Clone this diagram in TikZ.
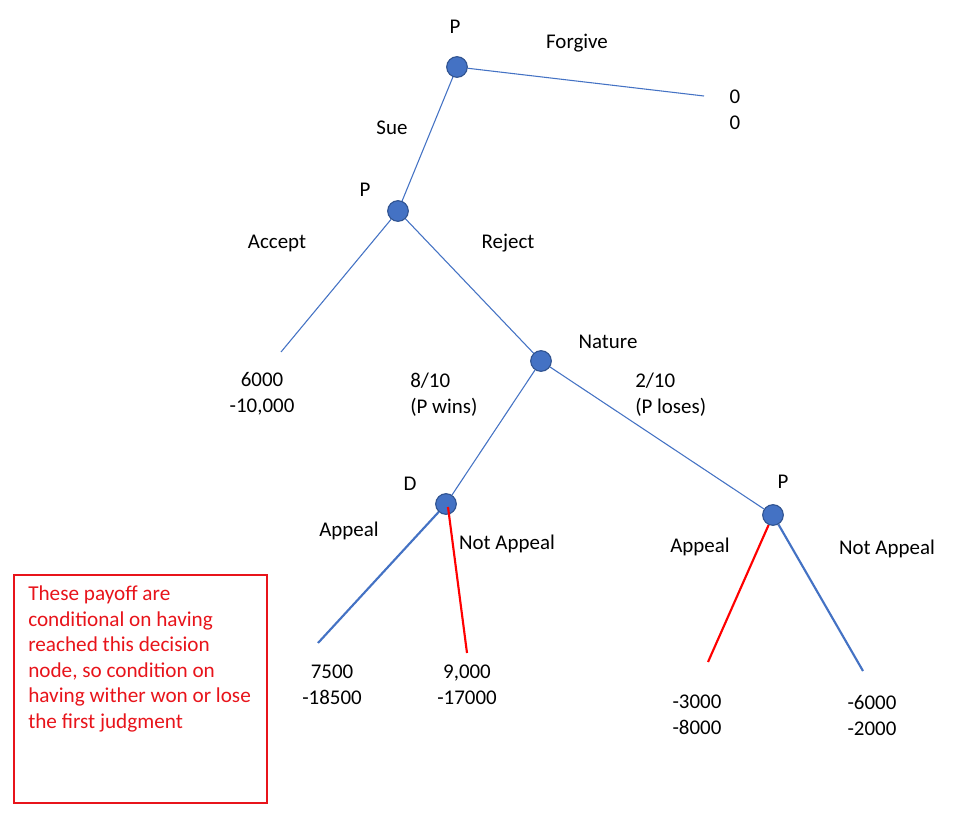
\documentclass[tikz,border=0pt]{standalone}
\usepackage{fontspec}
\setmainfont{Carlito}
\usetikzlibrary{backgrounds}
\definecolor{nodeblue}{HTML}{4472C4}
\definecolor{nodeedge}{HTML}{2F528F}
\definecolor{boxred}{HTML}{E8141B}
\begin{document}
\begin{tikzpicture}[x=0.75pt,y=-0.75pt,
  dec/.style={circle,fill=nodeblue,draw=nodeedge,line width=0.8pt,minimum size=15.5pt,inner sep=0pt},
  edge/.style={draw=nodeblue,line width=0.8pt},
  thick edge/.style={draw=nodeblue,line width=1.6pt},
  red edge/.style={draw=red,line width=1.6pt},
  lbl/.style={font=\fontsize{15.7}{19.5}\selectfont,inner sep=0pt,text height=0.7em,text depth=0.2em},
  pay/.style={font=\fontsize{15.7}{19.5}\selectfont,inner sep=0pt,align=center},
  payl/.style={font=\fontsize{15.7}{19.5}\selectfont,inner sep=0pt,align=left,anchor=west}]
\useasboundingbox (0,0) rectangle (963,823);

% decision nodes
\node[dec] (root) at (457,67) {};
\node[dec] (p2) at (398,211) {};
\node[dec] (nat) at (541,361) {};
\node[dec] (d) at (446,504) {};
\node[dec] (p3) at (773,515) {};

% leaf coordinates
\coordinate (forg) at (704,96);
\coordinate (acc) at (281,352);
\coordinate (dapp) at (318,643);
\coordinate (dnot) at (467,653);
\coordinate (papp) at (708,662);
\coordinate (pnot) at (863,671);
\coordinate (dstart) at (448,507);

% connectors behind the nodes
\begin{pgfonlayer}{background}
\fill[white] (0,0) rectangle (963,823);
\draw[edge] (root) -- (forg);
\draw[edge] (root) -- (p2);
\draw[edge] (p2) -- (acc);
\draw[edge] (p2) -- (nat);
\draw[edge] (nat) -- (d);
\draw[edge] (nat) -- (p3);
\draw[thick edge] (d) -- (dapp);
\draw[red edge] (p3) -- (papp);
\draw[thick edge] (p3) -- (pnot);
\end{pgfonlayer}
\draw[red edge] (dstart) -- (dnot);

% labels
\node[lbl] (lp1) at (455,30) {P};
\node[lbl] (lforg) at (577,45) {Forgive};
\node[pay] (z) at (735,110) {0\\0};
\node[lbl] (lsue) at (392,131) {Sue};
\node[lbl] (lp2) at (365,193) {P};
\node[lbl] (lacc) at (277,245) {Accept};
\node[lbl] (lrej) at (508,245) {Reject};
\node[lbl] (lnat) at (608,345) {Nature};
\node[pay] (pacc) at (262,394) {6000\\-10,000};
\node[payl] (pw) at (410,395) {8/10\\(P wins)};
\node[payl] (pl) at (635,395) {2/10\\(P loses)};
\node[lbl] (ld) at (410,487) {D};
\node[lbl] (lp3) at (783,485) {P};
\node[lbl] (ldapp) at (349,533) {Appeal};
\node[lbl] (ldnot) at (507,546) {Not Appeal};
\node[lbl] (lpapp) at (700,549) {Appeal};
\node[lbl] (lpnot) at (887,551) {Not Appeal};
\node[pay] (v1) at (332,685) {7500\\-18500};
\node[pay] (v2) at (467,685) {9,000\\-17000};
\node[pay] (v3) at (697,715) {-3000\\-8000};
\node[pay] (v4) at (872,715) {-6000\\-2000};

% note box
\draw[boxred,line width=0.8pt] (14,575) rectangle (267,803);
\node[font=\fontsize{15.9}{19.1}\selectfont,text=boxred,align=left,anchor=north west,inner sep=0pt] (note) at (28,586)
 {These payoff are\\conditional on having\\reached this decision\\node, so condition on\\having wither won or lose\\the first judgment};
\end{tikzpicture}
\end{document}
